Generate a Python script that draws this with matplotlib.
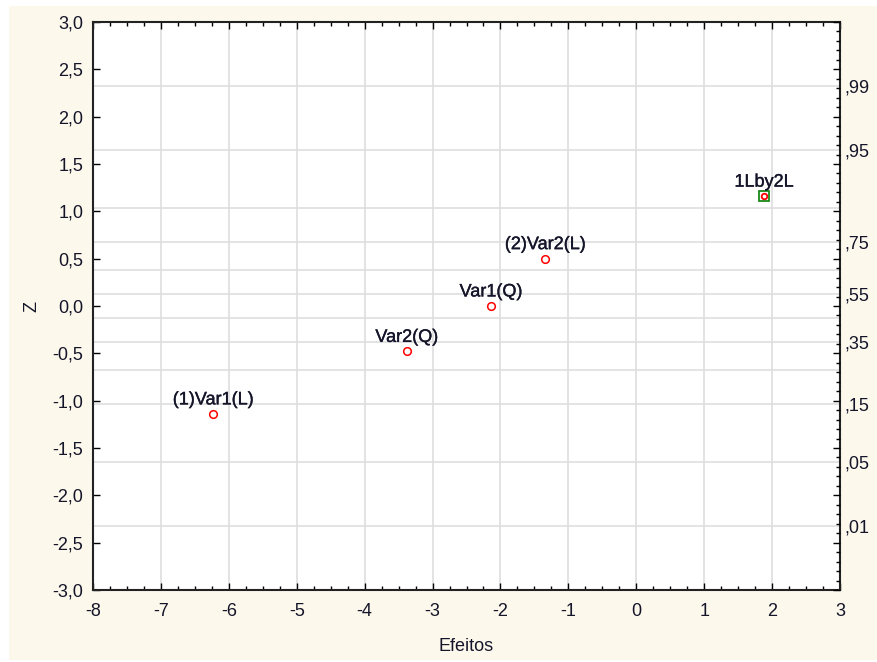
import matplotlib
matplotlib.use("Agg")
import matplotlib.pyplot as plt
import matplotlib.patheffects as pe
from matplotlib.ticker import MultipleLocator, FuncFormatter, FixedLocator
from matplotlib.patches import Rectangle
from statistics import NormalDist

# Data
labels = ["(1)Var1(L)", "Var2(Q)", "Var1(Q)", "(2)Var2(L)", "1Lby2L"]
effects = [-6.23, -3.38, -2.14, -1.34, 1.88]
zvals = [-1.14, -0.48, 0.0, 0.50, 1.16]
prob_grid = [0.01, 0.05, 0.15, 0.25, 0.35, 0.45, 0.55, 0.65, 0.75, 0.85, 0.95, 0.99]
prob_labels = [0.01, 0.05, 0.15, 0.35, 0.55, 0.75, 0.95, 0.99]
xlabel = "Efeitos"
ylabel = "Z"

plt.rcParams['font.family'] = ['Liberation Sans', 'DejaVu Sans']
txt = "#15152a"
cream = "#fdf8ec"
fs = 13

fig = plt.figure(figsize=(8.77, 6.62), dpi=100, facecolor="white")
fig.patches.append(Rectangle((9/877, 2/662), 1 - 9/877, 1 - 8/662, transform=fig.transFigure,
                             facecolor=cream, edgecolor="none", zorder=-10))
ax = fig.add_axes([93/877, 1 - 590/662, (840-93)/877, (590-22)/662])
ax.set_facecolor("white")
ax.set_xlim(-8, 3)
ax.set_ylim(-3, 3)

nd = NormalDist()
grid_z = [nd.inv_cdf(p) for p in prob_grid]
for gz in grid_z:
    ax.axhline(gz, color="#dedede", lw=1.2, zorder=0)
for gx in range(-7, 3):
    ax.axvline(gx, color="#dedede", lw=1.2, zorder=0)

ax.xaxis.set_major_locator(MultipleLocator(1))
ax.xaxis.set_minor_locator(MultipleLocator(0.25))
ax.yaxis.set_major_locator(MultipleLocator(0.5))
ax.xaxis.set_major_formatter(FuncFormatter(lambda v, p: "0" if abs(v) < 1e-9 else f"{v:.0f}"))
ax.yaxis.set_major_formatter(FuncFormatter(lambda v, p: "0,0" if abs(v) < 1e-9 else f"{v:.1f}".replace(".", ",")))
ax.tick_params(axis="both", which="major", direction="in", length=5, width=1, labelsize=fs,
               labelcolor=txt, top=True)
ax.tick_params(axis="x", which="major", pad=9)
ax.tick_params(axis="y", which="major", pad=7)
ax.tick_params(axis="x", which="minor", direction="in", length=3, width=1, top=True, bottom=True)
ax.tick_params(axis="y", which="minor", left=False)
ax.tick_params(axis="y", which="both", right=False)

for sp in ax.spines.values():
    sp.set_linewidth(1.5)
    sp.set_color("#222222")

# right axis: ticks
ax2 = ax.twinx()
ax2.set_ylim(-3, 3)
ax2.yaxis.set_major_locator(MultipleLocator(0.5))
ax2.yaxis.set_minor_locator(MultipleLocator(0.1))
ax2.tick_params(axis="y", which="major", direction="in", length=5, width=1, labelright=False)
ax2.tick_params(axis="y", which="minor", direction="in", length=3, width=1)
for sp in ax2.spines.values():
    sp.set_visible(False)

# right axis: probability labels
ax3 = ax.twinx()
ax3.set_ylim(-3, 3)
ax3.yaxis.set_major_locator(FixedLocator([nd.inv_cdf(p) for p in prob_labels]))
ax3.set_yticklabels([f"{p:.2f}"[1:].replace(".", ",") for p in prob_labels])
ax3.tick_params(axis="y", length=0, labelsize=fs, labelcolor=txt, pad=3)
for sp in ax3.spines.values():
    sp.set_visible(False)

# points
bold = [pe.withStroke(linewidth=0.25, foreground=txt)]
for lab, x, z in zip(labels, effects, zvals):
    if lab == "1Lby2L":
        ax.plot(x, z, marker="s", ms=6.5, mfc="none", mec="#1a8a1a", mew=1.3, zorder=5)
        ax.plot(x, z, marker="o", ms=4, mfc="white", mec="red", mew=1.3, zorder=6)
    else:
        ax.plot(x, z, marker="o", ms=5.5, mfc="white", mec="red", mew=1.1, zorder=5)
    ax.annotate(lab, (x, z), xytext=(0, 4), textcoords="offset points", ha="center", va="bottom",
                fontsize=fs, color=txt, zorder=7, path_effects=bold)

ax.set_xlabel(xlabel, fontsize=fs, color=txt, labelpad=13)
ax.set_ylabel(ylabel, fontsize=fs, color=txt, labelpad=9)

fig.savefig("out.png", dpi=100, facecolor=fig.get_facecolor())
